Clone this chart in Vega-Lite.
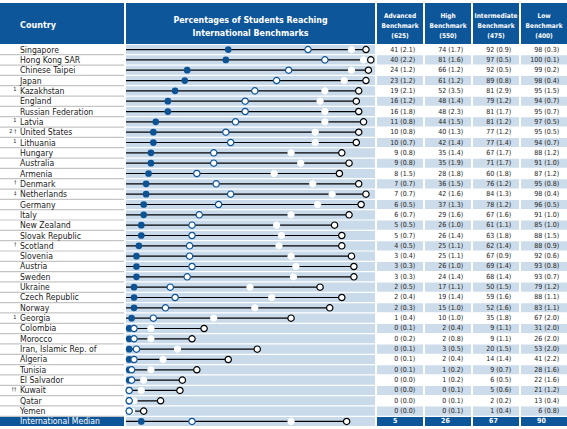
{
  "$schema": "https://vega.github.io/schema/vega-lite/v6.json",
  "padding": {"top": 3, "left": 0, "right": 0, "bottom": 0},
  "background": "white",
  "bounds": "flush",
  "align": "each",
  "columns": 6,
  "spacing": {"row": 1, "column": 2},
  "config": {
    "view": {"stroke": null},
    "text": {"font": "Liberation Sans Narrow, DejaVu Sans Condensed, Roboto Condensed, sans-serif"}
  },
  "datasets": {
    "one": [{"k": 1}],
    "bench": [
      {"country": "Singapore", "adv": 41, "advSE": 2.1, "high": 74, "highSE": 1.7, "inter": 92, "interSE": 0.9, "low": 98, "lowSE": 0.3},
      {"country": "Hong Kong SAR", "adv": 40, "advSE": 2.2, "high": 81, "highSE": 1.6, "inter": 97, "interSE": 0.5, "low": 100, "lowSE": 0.1},
      {"country": "Chinese Taipei", "adv": 24, "advSE": 1.2, "high": 66, "highSE": 1.2, "inter": 92, "interSE": 0.5, "low": 99, "lowSE": 0.2},
      {"country": "Japan", "adv": 23, "advSE": 1.2, "high": 61, "highSE": 1.2, "inter": 89, "interSE": 0.8, "low": 98, "lowSE": 0.4},
      {"country": "Kazakhstan", "note": "1", "adv": 19, "advSE": 2.1, "high": 52, "highSE": 3.5, "inter": 81, "interSE": 2.9, "low": 95, "lowSE": 1.5},
      {"country": "England", "adv": 16, "advSE": 1.2, "high": 48, "highSE": 1.4, "inter": 79, "interSE": 1.2, "low": 94, "lowSE": 0.7},
      {"country": "Russian Federation", "adv": 16, "advSE": 1.8, "high": 48, "highSE": 2.3, "inter": 81, "interSE": 1.7, "low": 95, "lowSE": 0.7},
      {"country": "Latvia", "note": "1", "adv": 11, "advSE": 0.8, "high": 44, "highSE": 1.5, "inter": 81, "interSE": 1.2, "low": 97, "lowSE": 0.5},
      {"country": "United States", "note": "2 †", "adv": 10, "advSE": 0.8, "high": 40, "highSE": 1.3, "inter": 77, "interSE": 1.2, "low": 95, "lowSE": 0.5},
      {"country": "Lithuania", "note": "1", "adv": 10, "advSE": 0.7, "high": 42, "highSE": 1.4, "inter": 77, "interSE": 1.4, "low": 94, "lowSE": 0.7},
      {"country": "Hungary", "adv": 9, "advSE": 0.8, "high": 35, "highSE": 1.4, "inter": 67, "interSE": 1.7, "low": 88, "lowSE": 1.2},
      {"country": "Australia", "adv": 9, "advSE": 0.8, "high": 35, "highSE": 1.9, "inter": 71, "interSE": 1.7, "low": 91, "lowSE": 1.0},
      {"country": "Armenia", "adv": 8, "advSE": 1.5, "high": 28, "highSE": 1.8, "inter": 60, "interSE": 1.8, "low": 87, "lowSE": 1.2},
      {"country": "Denmark", "note": "†", "adv": 7, "advSE": 0.7, "high": 36, "highSE": 1.5, "inter": 76, "interSE": 1.2, "low": 95, "lowSE": 0.8},
      {"country": "Netherlands", "note": "‡", "adv": 7, "advSE": 0.7, "high": 42, "highSE": 1.6, "inter": 84, "interSE": 1.3, "low": 98, "lowSE": 0.4},
      {"country": "Germany", "adv": 6, "advSE": 0.5, "high": 37, "highSE": 1.3, "inter": 78, "interSE": 1.2, "low": 96, "lowSE": 0.5},
      {"country": "Italy", "adv": 6, "advSE": 0.7, "high": 29, "highSE": 1.6, "inter": 67, "interSE": 1.6, "low": 91, "lowSE": 1.0},
      {"country": "New Zealand", "adv": 5, "advSE": 0.5, "high": 26, "highSE": 1.0, "inter": 61, "interSE": 1.1, "low": 85, "lowSE": 1.0},
      {"country": "Slovak Republic", "adv": 5, "advSE": 0.7, "high": 26, "highSE": 1.4, "inter": 63, "interSE": 1.8, "low": 88, "lowSE": 1.5},
      {"country": "Scotland", "note": "†", "adv": 4, "advSE": 0.5, "high": 25, "highSE": 1.1, "inter": 62, "interSE": 1.4, "low": 88, "lowSE": 0.9},
      {"country": "Slovenia", "adv": 3, "advSE": 0.4, "high": 25, "highSE": 1.1, "inter": 67, "interSE": 0.9, "low": 92, "lowSE": 0.6},
      {"country": "Austria", "adv": 3, "advSE": 0.3, "high": 26, "highSE": 1.0, "inter": 69, "interSE": 1.4, "low": 93, "lowSE": 0.8},
      {"country": "Sweden", "adv": 3, "advSE": 0.3, "high": 24, "highSE": 1.4, "inter": 68, "interSE": 1.4, "low": 93, "lowSE": 0.7},
      {"country": "Ukraine", "adv": 2, "advSE": 0.5, "high": 17, "highSE": 1.1, "inter": 50, "interSE": 1.5, "low": 79, "lowSE": 1.2},
      {"country": "Czech Republic", "adv": 2, "advSE": 0.4, "high": 19, "highSE": 1.4, "inter": 59, "interSE": 1.6, "low": 88, "lowSE": 1.1},
      {"country": "Norway", "adv": 2, "advSE": 0.3, "high": 15, "highSE": 1.0, "inter": 52, "interSE": 1.6, "low": 83, "lowSE": 1.1},
      {"country": "Georgia", "note": "1", "adv": 1, "advSE": 0.4, "high": 10, "highSE": 1.0, "inter": 35, "interSE": 1.8, "low": 67, "lowSE": 2.0},
      {"country": "Colombia", "adv": 0, "advSE": 0.1, "high": 2, "highSE": 0.4, "inter": 9, "interSE": 1.1, "low": 31, "lowSE": 2.0},
      {"country": "Morocco", "adv": 0, "advSE": 0.2, "high": 2, "highSE": 0.8, "inter": 9, "interSE": 1.1, "low": 26, "lowSE": 2.0},
      {"country": "Iran, Islamic Rep. of", "adv": 0, "advSE": 0.1, "high": 3, "highSE": 0.5, "inter": 20, "interSE": 1.5, "low": 53, "lowSE": 2.0},
      {"country": "Algeria", "adv": 0, "advSE": 0.1, "high": 2, "highSE": 0.4, "inter": 14, "interSE": 1.4, "low": 41, "lowSE": 2.2},
      {"country": "Tunisia", "adv": 0, "advSE": 0.1, "high": 1, "highSE": 0.2, "inter": 9, "interSE": 0.7, "low": 28, "lowSE": 1.6},
      {"country": "El Salvador", "adv": 0, "advSE": 0.0, "high": 1, "highSE": 0.2, "inter": 6, "interSE": 0.5, "low": 22, "lowSE": 1.6},
      {"country": "Kuwait", "note": "††", "adv": 0, "advSE": 0.0, "high": 0, "highSE": 0.1, "inter": 5, "interSE": 0.6, "low": 21, "lowSE": 1.2},
      {"country": "Qatar", "adv": 0, "advSE": 0.0, "high": 0, "highSE": 0.1, "inter": 2, "interSE": 0.2, "low": 13, "lowSE": 0.4},
      {"country": "Yemen", "adv": 0, "advSE": 0.0, "high": 0, "highSE": 0.1, "inter": 1, "interSE": 0.4, "low": 6, "lowSE": 0.8},
      {"country": "International Median", "adv": 5, "high": 26, "inter": 67, "low": 90}
    ]
  },
  "concat": [
    {
      "width": 124, "height": 41,
      "view": {"fill": "#0d5699", "stroke": null},
      "data": {"name": "one"},
      "mark": {"type": "text", "text": "Country", "color": "white", "fontWeight": "bold", "fontSize": 9, "align": "left", "baseline": "middle", "dy": 1.5},
      "encoding": {"x": {"datum": 0.161, "type": "quantitative", "scale": {"domain": [0, 1]}, "axis": null}}
    },
    {
      "width": 249, "height": 41,
      "view": {"fill": "#0d5699", "stroke": null},
      "data": {"name": "one"},
      "mark": {"type": "text", "text": ["Percentages of Students Reaching", "International Benchmarks"], "color": "white", "fontWeight": "bold", "fontSize": 8.8, "lineHeight": 13, "align": "center", "baseline": "middle", "dy": -3.5},
      "encoding": {}
    },
    {
      "width": 46, "height": 41,
      "view": {"fill": "#0d5699", "stroke": null},
      "data": {"name": "one"},
      "mark": {"type": "text", "text": ["Advanced", "Benchmark", "(625)"], "color": "white", "fontWeight": "bold", "fontSize": 6.5, "lineHeight": 10, "align": "center", "baseline": "middle", "dy": -8},
      "encoding": {}
    },
    {
      "width": 46, "height": 41,
      "view": {"fill": "#0d5699", "stroke": null},
      "data": {"name": "one"},
      "mark": {"type": "text", "text": ["High", "Benchmark", "(550)"], "color": "white", "fontWeight": "bold", "fontSize": 6.5, "lineHeight": 10, "align": "center", "baseline": "middle", "dy": -8},
      "encoding": {}
    },
    {
      "width": 46, "height": 41,
      "view": {"fill": "#0d5699", "stroke": null},
      "data": {"name": "one"},
      "mark": {"type": "text", "text": ["Intermediate", "Benchmark", "(475)"], "color": "white", "fontWeight": "bold", "fontSize": 6.5, "lineHeight": 10, "align": "center", "baseline": "middle", "dy": -8},
      "encoding": {}
    },
    {
      "width": 46, "height": 41,
      "view": {"fill": "#0d5699", "stroke": null},
      "data": {"name": "one"},
      "mark": {"type": "text", "text": ["Low", "Benchmark", "(400)"], "color": "white", "fontWeight": "bold", "fontSize": 6.5, "lineHeight": 10, "align": "center", "baseline": "middle", "dy": -8},
      "encoding": {}
    },
    {
      "width": 124, "height": 381,
      "view": {"fill": "#c4c4c4", "stroke": null},
      "data": {"name": "bench"},
      "encoding": {"y": {"field": "country", "type": "nominal", "sort": null, "scale": {"paddingInner": 0.12, "paddingOuter": 0}, "axis": null}},
      "layer": [
        {"mark": {"type": "rect"}, "encoding": {"fill": {"condition": {"test": "datum.country === 'International Median'", "value": "#0d5699"}, "value": "white"}}},
        {
          "mark": {"type": "text", "align": "left", "baseline": "middle", "fontSize": 8.6},
          "encoding": {
            "x": {"datum": 0.161, "type": "quantitative", "scale": {"domain": [0, 1]}, "axis": null},
            "text": {"field": "country", "type": "nominal"},
            "color": {"condition": {"test": "datum.country === 'International Median'", "value": "white"}, "value": "#1a1a1a"}
          }
        },
        {
          "transform": [{"filter": "isValid(datum.note)"}],
          "mark": {"type": "text", "align": "right", "baseline": "middle", "fontSize": 5.5, "dy": -1.5, "color": "#1a1a1a"},
          "encoding": {
            "x": {"datum": 0.133, "type": "quantitative", "scale": {"domain": [0, 1]}, "axis": null},
            "text": {"field": "note", "type": "nominal"}
          }
        }
      ]
    },
    {
      "width": 249, "height": 381,
      "view": {"fill": "white", "stroke": null},
      "data": {"name": "bench"},
      "encoding": {"y": {"field": "country", "type": "nominal", "sort": null, "scale": {"paddingInner": 0.12, "paddingOuter": 0}, "axis": null}},
      "layer": [
        {"mark": {"type": "rect", "fill": "#c9dbea"}, "encoding": {}},
        {
          "mark": {"type": "rule", "color": "black", "strokeWidth": 1.2},
          "encoding": {
            "x": {"field": "low", "type": "quantitative", "scale": {"domain": [-1.32, 101.74], "nice": false, "zero": false}, "axis": null},
            "x2": {"datum": -1.32}
          }
        },
        {
          "mark": {"type": "circle", "size": 40, "fill": "white", "stroke": "white", "strokeWidth": 1, "opacity": 1},
          "encoding": {"x": {"field": "inter", "type": "quantitative", "scale": {"domain": [-1.32, 101.74], "nice": false, "zero": false}, "axis": null}}
        },
        {
          "mark": {"type": "circle", "size": 40, "fill": "white", "stroke": "black", "strokeWidth": 1.2, "opacity": 1},
          "encoding": {"x": {"field": "low", "type": "quantitative", "scale": {"domain": [-1.32, 101.74], "nice": false, "zero": false}, "axis": null}}
        },
        {
          "mark": {"type": "circle", "size": 45, "fill": "#0d5394", "opacity": 1},
          "encoding": {"x": {"field": "adv", "type": "quantitative", "scale": {"domain": [-1.32, 101.74], "nice": false, "zero": false}, "axis": null}}
        },
        {
          "mark": {"type": "circle", "size": 40, "fill": "white", "stroke": "#0d5394", "strokeWidth": 1.2, "opacity": 1},
          "encoding": {"x": {"field": "high", "type": "quantitative", "scale": {"domain": [-1.32, 101.74], "nice": false, "zero": false}, "axis": null}}
        }
      ]
    },
    {
      "width": 46, "height": 381,
      "view": {"fill": "white", "stroke": null},
      "data": {"name": "bench"},
      "transform": [{"window": [{"op": "row_number", "as": "rn"}]}],
      "encoding": {"y": {"field": "country", "type": "nominal", "sort": null, "scale": {"paddingInner": 0.12, "paddingOuter": 0}, "axis": null}},
      "layer": [
        {"mark": {"type": "rect"}, "encoding": {"fill": {"condition": [{"test": "datum.country === 'International Median'", "value": "#0d5699"}, {"test": "datum.rn % 2 === 0", "value": "#cddcea"}], "value": "white"}}},
        {
          "transform": [{"filter": "datum.country !== 'International Median'"}],
          "mark": {"type": "text", "align": "right", "baseline": "middle", "fontSize": 7, "color": "#222222", "text": {"expr": "datum.adv + ' (' + format(datum.advSE, '.1f') + ')'"}},
          "encoding": {"x": {"datum": 0.83, "type": "quantitative", "scale": {"domain": [0, 1]}, "axis": null}}
        },
        {
          "transform": [{"filter": "datum.country === 'International Median'"}],
          "mark": {"type": "text", "align": "left", "baseline": "middle", "fontSize": 7, "fontWeight": "bold", "color": "white"},
          "encoding": {"x": {"datum": 0.35, "type": "quantitative", "scale": {"domain": [0, 1]}, "axis": null}, "text": {"field": "adv", "type": "quantitative"}}
        }
      ]
    },
    {
      "width": 46, "height": 381,
      "view": {"fill": "white", "stroke": null},
      "data": {"name": "bench"},
      "transform": [{"window": [{"op": "row_number", "as": "rn"}]}],
      "encoding": {"y": {"field": "country", "type": "nominal", "sort": null, "scale": {"paddingInner": 0.12, "paddingOuter": 0}, "axis": null}},
      "layer": [
        {"mark": {"type": "rect"}, "encoding": {"fill": {"condition": [{"test": "datum.country === 'International Median'", "value": "#0d5699"}, {"test": "datum.rn % 2 === 0", "value": "#cddcea"}], "value": "white"}}},
        {
          "transform": [{"filter": "datum.country !== 'International Median'"}],
          "mark": {"type": "text", "align": "right", "baseline": "middle", "fontSize": 7, "color": "#222222", "text": {"expr": "datum.high + ' (' + format(datum.highSE, '.1f') + ')'"}},
          "encoding": {"x": {"datum": 0.83, "type": "quantitative", "scale": {"domain": [0, 1]}, "axis": null}}
        },
        {
          "transform": [{"filter": "datum.country === 'International Median'"}],
          "mark": {"type": "text", "align": "left", "baseline": "middle", "fontSize": 7, "fontWeight": "bold", "color": "white"},
          "encoding": {"x": {"datum": 0.35, "type": "quantitative", "scale": {"domain": [0, 1]}, "axis": null}, "text": {"field": "high", "type": "quantitative"}}
        }
      ]
    },
    {
      "width": 46, "height": 381,
      "view": {"fill": "white", "stroke": null},
      "data": {"name": "bench"},
      "transform": [{"window": [{"op": "row_number", "as": "rn"}]}],
      "encoding": {"y": {"field": "country", "type": "nominal", "sort": null, "scale": {"paddingInner": 0.12, "paddingOuter": 0}, "axis": null}},
      "layer": [
        {"mark": {"type": "rect"}, "encoding": {"fill": {"condition": [{"test": "datum.country === 'International Median'", "value": "#0d5699"}, {"test": "datum.rn % 2 === 0", "value": "#cddcea"}], "value": "white"}}},
        {
          "transform": [{"filter": "datum.country !== 'International Median'"}],
          "mark": {"type": "text", "align": "right", "baseline": "middle", "fontSize": 7, "color": "#222222", "text": {"expr": "datum.inter + ' (' + format(datum.interSE, '.1f') + ')'"}},
          "encoding": {"x": {"datum": 0.83, "type": "quantitative", "scale": {"domain": [0, 1]}, "axis": null}}
        },
        {
          "transform": [{"filter": "datum.country === 'International Median'"}],
          "mark": {"type": "text", "align": "left", "baseline": "middle", "fontSize": 7, "fontWeight": "bold", "color": "white"},
          "encoding": {"x": {"datum": 0.35, "type": "quantitative", "scale": {"domain": [0, 1]}, "axis": null}, "text": {"field": "inter", "type": "quantitative"}}
        }
      ]
    },
    {
      "width": 46, "height": 381,
      "view": {"fill": "white", "stroke": null},
      "data": {"name": "bench"},
      "transform": [{"window": [{"op": "row_number", "as": "rn"}]}],
      "encoding": {"y": {"field": "country", "type": "nominal", "sort": null, "scale": {"paddingInner": 0.12, "paddingOuter": 0}, "axis": null}},
      "layer": [
        {"mark": {"type": "rect"}, "encoding": {"fill": {"condition": [{"test": "datum.country === 'International Median'", "value": "#0d5699"}, {"test": "datum.rn % 2 === 0", "value": "#cddcea"}], "value": "white"}}},
        {
          "transform": [{"filter": "datum.country !== 'International Median'"}],
          "mark": {"type": "text", "align": "right", "baseline": "middle", "fontSize": 7, "color": "#222222", "text": {"expr": "datum.low + ' (' + format(datum.lowSE, '.1f') + ')'"}},
          "encoding": {"x": {"datum": 0.83, "type": "quantitative", "scale": {"domain": [0, 1]}, "axis": null}}
        },
        {
          "transform": [{"filter": "datum.country === 'International Median'"}],
          "mark": {"type": "text", "align": "left", "baseline": "middle", "fontSize": 7, "fontWeight": "bold", "color": "white"},
          "encoding": {"x": {"datum": 0.35, "type": "quantitative", "scale": {"domain": [0, 1]}, "axis": null}, "text": {"field": "low", "type": "quantitative"}}
        }
      ]
    }
  ]
}
